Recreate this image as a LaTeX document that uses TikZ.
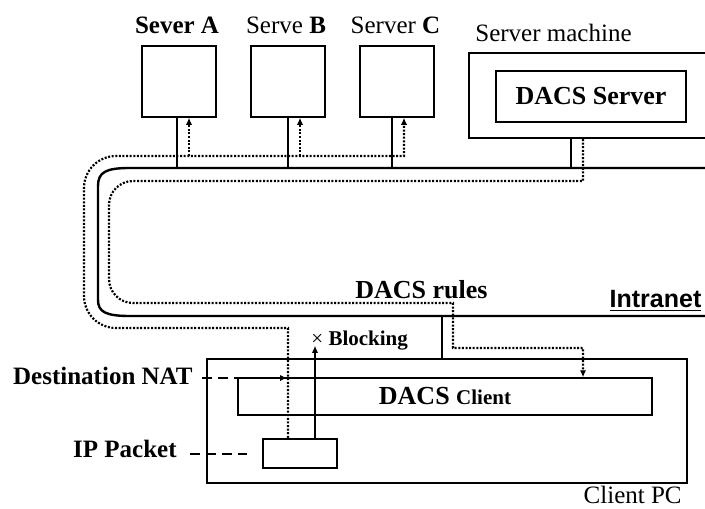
\documentclass[tikz,border=0pt]{standalone}
\usepackage{fontspec}
\setmainfont{Liberation Serif}
\newfontfamily\sansfont{Liberation Sans}
\usetikzlibrary{arrows.meta,positioning,calc}

\tikzset{
  plainbox/.style={draw,line width=0.75pt,inner sep=0pt},
  wire/.style={line width=1.2pt},
  route/.style={line width=1.1pt,dash pattern=on 1pt off 0.8pt},
  dashline/.style={line width=1pt,dash pattern=on 5pt off 3pt},
  arr/.style={-{Latex[length=3.5pt,width=3.2pt]}},
  lbl/.style={inner sep=0pt,font=\fontsize{12.5}{14}\selectfont},
}

\begin{document}
\begin{tikzpicture}[x=0.5pt,y=-0.5pt]
  \clip (0,0) rectangle (705,508); % 図全体の範囲
  % サーバ
  \node[plainbox,minimum width=37pt,minimum height=35.5pt] (srvA) at (179,81.5) {};
  \node[plainbox,minimum width=37pt,minimum height=35.5pt] (srvB) at (288,81.5) {};
  \node[plainbox,minimum width=37pt,minimum height=35.5pt] (srvC) at (397,81.5) {};
  \node[lbl,anchor=base] (srvAl) at (177,33.3) {\bfseries Sever A};
  \node[lbl,anchor=base] (srvBl) at (286,33.3) {Serve \textbf{B}};
  \node[lbl,anchor=base] (srvCl) at (395.5,33.3) {Server \textbf{C}};
  % サーバマシン（右端は図の外へ続く）
  \node[draw,line width=1pt,inner sep=0pt,minimum width=140pt,minimum height=42.5pt,anchor=north west] (smach) at (468,52) {};
  \node[lbl,anchor=base west] (smachl) at (475,41.7) {Server machine};
  \node[plainbox,minimum width=95pt,minimum height=25.5pt,font=\bfseries\fontsize{13}{15}\selectfont] (dserver) at (591,96.5) {DACS Server};
  % イントラネット（左側は角を丸めた管）
  \draw[wire] (705,168) -- (130,168) .. controls (106,168) and (98,172) .. (98,186)
    -- (98,300) .. controls (98,312) and (106,316) .. (130,316) -- (705,316);
  \coordinate (busN) at (0,168);
  \coordinate (busS) at (0,316);
  \node[lbl,anchor=base,font=\bfseries\fontsize{13}{15}\selectfont] (rules) at (421.5,298) {DACS rules};
  \node[lbl,anchor=base,font=\sansfont\bfseries\fontsize{12.5}{14}\selectfont] (intra) at (655.5,307.3) {\underline{Intranet}};
  % クライアントPC
  \node[draw,line width=1.2pt,inner sep=0pt,minimum width=240pt,minimum height=62pt] (cpc) at (447,421) {};
  \node[lbl,anchor=base east] (cpcl) at (682,503) {Client PC};
  \node[plainbox,minimum width=207pt,minimum height=18.5pt] (dclient) at (445,396.5)
    {\fontsize{13}{15}\selectfont\bfseries DACS \fontsize{10.5}{12}\selectfont Client};
  \node[draw,line width=1.2pt,inner sep=0pt,minimum width=37pt,minimum height=14.5pt] (ippkt) at (300,453.5) {};
  \node[lbl,anchor=base east,font=\bfseries\fontsize{12.5}{14}\selectfont] (natl) at (193,384) {Destination NAT};
  \node[lbl,anchor=base east,font=\bfseries\fontsize{12.5}{14}\selectfont] (ipl) at (177,457.7) {IP Packet};
  \node[lbl,anchor=base west,font=\fontsize{10.5}{12}\selectfont] (blkl) at (311,345) {× \textbf{Blocking}};
  % 実線の接続
  \draw[wire] ([xshift=-1pt]srvA.south) -- ([xshift=-1pt]srvA.south |- busN);
  \draw[wire] (srvB.south) -- (srvB.south |- busN);
  \draw[wire] ([xshift=-2.5pt]srvC.south) -- ([xshift=-2.5pt]srvC.south |- busN);
  \coordinate (sm1) at (571,0);
  \draw[wire] (sm1 |- smach.south) -- (sm1 |- busN);
  \coordinate (cl) at (442,0);
  \draw[wire] (cl |- busS) -- (cl |- cpc.north);
  % パケットの経路（点線）
  \coordinate (ra) at (189,156);
  \coordinate (rb) at (300,156);
  \coordinate (rc) at (404,156);
  \draw[route,arr] ([xshift=-6pt]ippkt.north) -- (288,328) [rounded corners=16] -- (84,328) -- (84,156)
    [sharp corners] -- (rc) -- (rc |- srvC.south);
  \draw[route,arr] (ra) -- (ra |- srvA.south);
  \draw[route,arr] (rb) -- (rb |- srvB.south);
  % ルール配布の経路（点線）
  \coordinate (sm2) at (583,0);
  \draw[route,arr] (sm2 |- smach.south) -- (583,181) [rounded corners=12] -- (109,181) -- (109,303)
    [sharp corners] -- (453,303) -- (453,348) -- (583,348) -- (sm2 |- dclient.north);
  % 破線の矢印と遮断
  \coordinate (natend) at (287,378);
  \draw[dashline,arr,shorten <=4.5pt] (natl.east |- natend) -- (natend);
  \draw[dashline,shorten <=6.5pt,shorten >=7.5pt] (ipl.east |- ippkt.west) -- (ippkt.west);
  \draw[line width=0.6pt,arr] ([xshift=7.5pt]ippkt.north) -- ++(0,-92);
\end{tikzpicture}
\end{document}
